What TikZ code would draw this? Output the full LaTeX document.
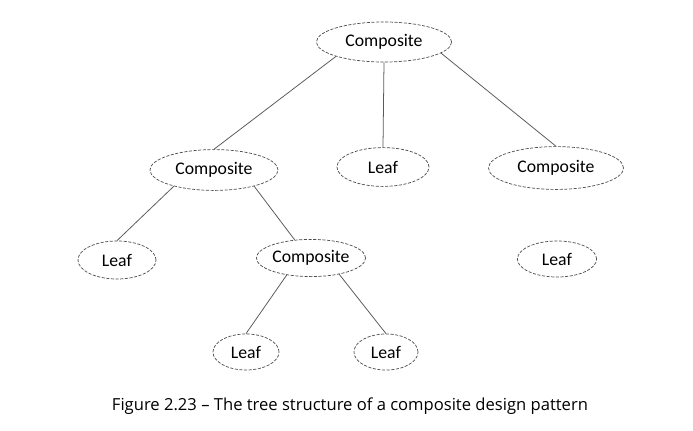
\documentclass[tikz,border=0pt]{standalone}
\usepackage{fontspec}
\setmainfont{Open Sans}
\newfontfamily\calibri{Carlito}
\usetikzlibrary{shapes.geometric}

\tikzset{
  noeud/.style={draw=black!70, ellipse, dash pattern=on 2.2pt off 1.1pt, line width=0.5pt,
    inner sep=0pt, font=\calibri\fontsize{12.6}{15}\selectfont},
  lien/.style={draw=black!65, line width=0.55pt}
}

\begin{document}
\begin{tikzpicture}[x=0.025cm, y=-0.025cm]
 \useasboundingbox (0,0) rectangle (693,430);

	% Noeuds
 \node[noeud, minimum width=3.38cm, minimum height=1.0cm] (c0) at (384,42) {Composite};
 \node[noeud, minimum width=3.2cm, minimum height=1.02cm] (c1) at (214,170) {Composite};
 \node[noeud, minimum width=2.3cm, minimum height=0.97cm] (f1) at (383,167) {Leaf};
 \node[noeud, minimum width=3.375cm, minimum height=1.07cm] (c2) at (556,168) {Composite};
 \node[noeud, minimum width=1.95cm, minimum height=0.95cm] (f2) at (117,260) {Leaf};
 \node[noeud, minimum width=2.5cm, minimum height=0.93cm] (c3) at (311,258) {Composite};
 \node[noeud, minimum width=1.98cm, minimum height=0.9cm] (f3) at (557,259) {Leaf};
 \node[noeud, minimum width=1.65cm, minimum height=0.9cm] (f4) at (246,352) {Leaf};
 \node[noeud, minimum width=1.6cm, minimum height=0.9cm] (f5) at (386,352) {Leaf};

	% Liaisons
 \draw[lien] (c0.south west) -- (c1.north);
 \draw[lien] (c0.south) -- (f1.north);
 \draw[lien] (c0.-11) -- (c2.north);
 \draw[lien] (c1.-158) -- (f2.north);
 \draw[lien] (c1.-22) -- (c3.132);
 \draw[lien] (c3.-145) -- (f4.north);
 \draw[lien] (c3.-30) -- (f5.north);

	% Legende
 \node[font=\fontsize{11.8}{14}\selectfont] (titre) at (350,406) {Figure 2.23 -- The tree structure of a composite design pattern};

\end{tikzpicture}
\end{document}
